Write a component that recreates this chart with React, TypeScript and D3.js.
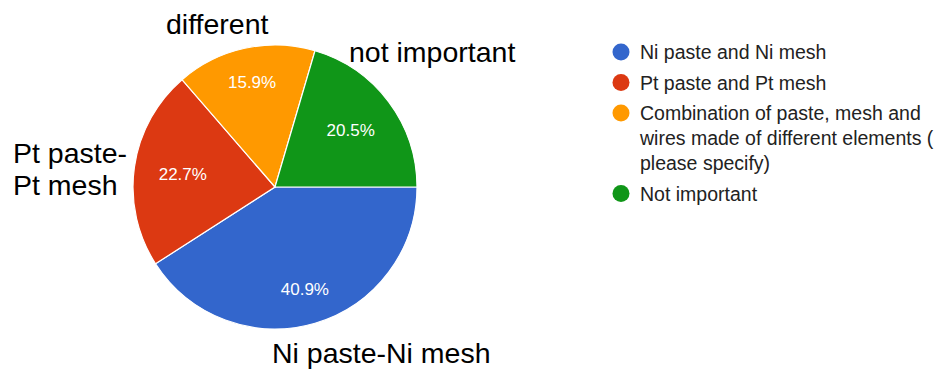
import React from "react";
import * as d3 from "d3";

const categories = [
  "Ni paste and Ni mesh",
  "Pt paste and Pt mesh",
  "Combination of paste, mesh and wires made of different elements ( please specify)",
  "Not important",
];
const values = [18, 10, 7, 9];
const colors = ["#3366cc", "#dc3912", "#ff9900", "#109618"];
const legendLines = [
  ["Ni paste and Ni mesh"],
  ["Pt paste and Pt mesh"],
  ["Combination of paste, mesh and", "wires made of different elements (", "please specify)"],
  ["Not important"],
];
const annotations = [
  { lines: ["Ni paste-Ni mesh"], x: 272, y: 363 },
  { lines: ["Pt paste-", "Pt mesh"], x: 13, y: 163 },
  { lines: ["different"], x: 166, y: 34 },
  { lines: ["not important"], x: 349, y: 62 },
];

const W = 939;
const H = 370;
const cx = 275;
const cy = 187;
const R = 142;
const FONT = "'Liberation Sans', Arial, Helvetica, sans-serif";
const pctSize = 17;

export default function App() {
  const total = d3.sum(values);
  const pie = d3
    .pie<number>()
    .sort(null)
    .value((d) => d)
    .startAngle(Math.PI / 2)
    .endAngle(Math.PI / 2 + 2 * Math.PI);
  const arcs = pie(values);
  const arcGen = d3.arc<d3.PieArcDatum<number>>().innerRadius(0).outerRadius(R);
  const fmt = d3.format(".1f");

  const legendX = 621;
  const legendTextX = 640;
  const lineH = 25;
  const itemGap = 30.5;
  let ly = 52;
  const legendItems = legendLines.map((lines, i) => {
    const y = ly;
    ly += (lines.length - 1) * lineH + itemGap;
    return { lines, y, i };
  });

  return (
    <div style={{ position: "absolute", left: 0, top: 0 }}>
      <svg width={W} height={H} style={{ display: "block", background: "#fff" }}>
        <g transform={`translate(${cx},${cy})`}>
          {arcs.map((a, i) => (
            <path key={i} d={arcGen(a) || ""} fill={colors[i]} stroke="#fff" strokeWidth={1.2} />
          ))}
          {arcs.map((a, i) => {
            const label = fmt((values[i] / total) * 100) + "%";
            const mid = (a.startAngle + a.endAngle) / 2;
            const s = Math.sin(mid);
            const c = Math.cos(mid);
            const halfW = (label.length * 0.66 * pctSize) / 2;
            const halfH = pctSize * 0.5;
            const ext = halfW * Math.abs(s) + halfH * Math.abs(c);
            const r = 0.86 * R - ext;
            return (
              <text
                key={i}
                x={r * s}
                y={-r * c}
                textAnchor="middle"
                dy="0.36em"
                fill="#fff"
                fontSize={pctSize}
                fontFamily={FONT}
              >
                {label}
              </text>
            );
          })}
        </g>
        {annotations.map((an, i) => (
          <text key={i} x={an.x} y={an.y} fontSize={28.5} fontFamily={FONT} fill="#000">
            {an.lines.map((l, j) => (
              <tspan key={j} x={an.x} dy={j === 0 ? 0 : 32}>
                {l}
              </tspan>
            ))}
          </text>
        ))}
        {legendItems.map(({ lines, y, i }) => (
          <g key={i}>
            <circle cx={legendX} cy={y} r={8.5} fill={colors[i]} />
            <text x={legendTextX} y={y} fontSize={19.5} fontFamily={FONT} fill="#222">
              {lines.map((l, j) => (
                <tspan key={j} x={legendTextX} dy={j === 0 ? "0.36em" : lineH}>
                  {l}
                </tspan>
              ))}
            </text>
          </g>
        ))}
      </svg>
    </div>
  );
}
